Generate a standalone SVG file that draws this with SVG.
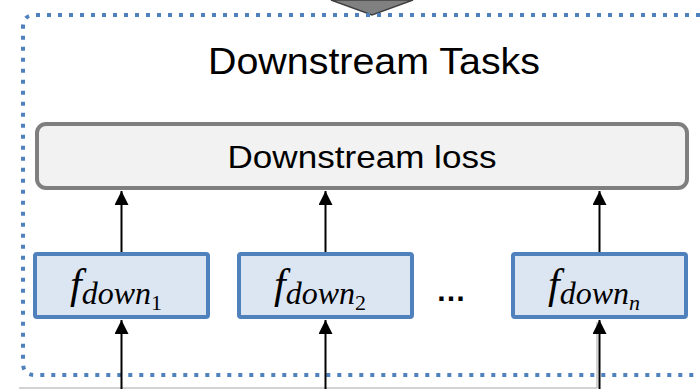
<svg xmlns="http://www.w3.org/2000/svg" width="700" height="389" viewBox="0 0 700 389">
<style>
.border{fill:none;stroke:#4f81bd;stroke-width:4;stroke-dasharray:4 7}
.loss{fill:#f2f2f2;stroke:#7f7f7f;stroke-width:4}
.fbox{fill:#dce6f2;stroke:#4f81bd;stroke-width:4}
.title{font-family:"Liberation Sans",Arial,sans-serif;fill:#000}
.fl{font-family:"Liberation Serif","Times New Roman",serif;font-style:italic;fill:#000}
.edge{stroke:#000;stroke-width:2;fill:none;marker-end:url(#ah)}
</style>
<defs>
<marker id="ah" viewBox="0 0 10 10" refX="10" refY="5" markerWidth="7.5" markerHeight="7" orient="auto" markerUnits="strokeWidth">
<path d="M0,0 L10,5 L0,10 z" fill="#000"/>
</marker>
</defs>
<rect width="700" height="389" fill="#fff"/>
<g id="incoming-arrow">
<polygon points="331,0 413,0 372,15" fill="#808080" stroke="#404040" stroke-width="1.5"/>
</g>
<g id="frame">
<path class="border" d="M700,15 H35 Q23,15 23,27 V363 Q23,375 35,375 H700"/>
<text class="title" x="374" y="74" font-size="36" text-anchor="middle" textLength="332" lengthAdjust="spacingAndGlyphs">Downstream Tasks</text>
</g>
<g id="below-edge">
<polyline points="19,388 597,388 597,322" fill="none" stroke="#a6a6a6" stroke-width="1"/>
</g>
<g id="loss">
<rect class="loss" x="37" y="124" width="650" height="64" rx="9"/>
<text class="title" x="362" y="168" font-size="32" text-anchor="middle" textLength="269" lengthAdjust="spacingAndGlyphs">Downstream loss</text>
</g>
<g id="f1">
<rect class="fbox" x="35" y="254" width="173" height="63" rx="2"/>
<text class="fl" x="116" y="298" font-size="42" text-anchor="middle">f<tspan font-size="32" dy="6">down</tspan><tspan font-size="22" dy="6" font-style="normal">1</tspan></text>
</g>
<g id="f2">
<rect class="fbox" x="239" y="254" width="173" height="63" rx="2"/>
<text class="fl" x="320" y="298" font-size="42" text-anchor="middle">f<tspan font-size="32" dy="6">down</tspan><tspan font-size="22" dy="6" font-style="normal">2</tspan></text>
</g>
<g id="dots">
<text class="title" x="451" y="301" font-size="30" font-weight="bold" text-anchor="middle">…</text>
</g>
<g id="fn">
<rect class="fbox" x="513" y="254" width="173" height="63" rx="2"/>
<text class="fl" x="594" y="298" font-size="42" text-anchor="middle">f<tspan font-size="32" dy="6">down</tspan><tspan font-size="22" dy="6">n</tspan></text>
</g>
<g id="connectors">
<line class="edge" x1="121.5" y1="252" x2="121.5" y2="191"/>
<line class="edge" x1="325.5" y1="252" x2="325.5" y2="191"/>
<line class="edge" x1="599.5" y1="252" x2="599.5" y2="191"/>
<line class="edge" x1="121.5" y1="389" x2="121.5" y2="320"/>
<line class="edge" x1="325.5" y1="389" x2="325.5" y2="320"/>
<line class="edge" x1="599.5" y1="389" x2="599.5" y2="320"/>
</g>
</svg>
